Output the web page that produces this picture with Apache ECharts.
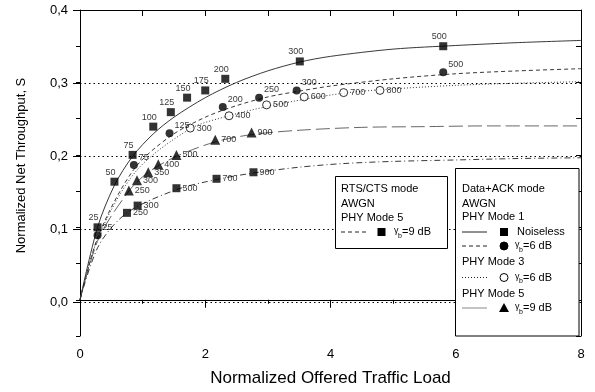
<!DOCTYPE html>
<html>
<head>
<meta charset="utf-8">
<script src="https://cdn.jsdelivr.net/npm/echarts@6/dist/echarts.min.js"></script>
<style>html,body{margin:0;padding:0;background:#fff}#c{width:595px;height:392px}</style>
</head>
<body>
<div id="c"></div>
<script>
// ---- data ----
const xTicks = [0, 2, 4, 6, 8];
const yTicks = [0.0, 0.1, 0.2, 0.3, 0.4];

// PHY Mode 1, Noiseless (filled squares, solid curve)
const m1NoiselessPts = [[0.28,0.100],[0.55,0.163],[0.84,0.200],[1.17,0.239],[1.45,0.259],[1.71,0.279],[2.00,0.289],[2.32,0.305],[3.51,0.329],[5.80,0.350]];
const m1NoiselessLbl = [25,50,75,100,125,150,175,200,300,500];
const m1NoiselessCurve = [[0,0],[0.28,0.100],[0.55,0.158],[0.84,0.198],[1.17,0.229],[1.5,0.252],[2,0.279],[2.5,0.300],[3,0.316],[3.5,0.328],[4,0.336],[5,0.346],[6,0.351],[7,0.355],[8,0.358]];

// PHY Mode 1, gamma_b = 6 dB (filled circles, dashed curve)
const m1g6Pts = [[0.28,0.089],[0.86,0.186],[1.43,0.230],[2.28,0.266],[2.86,0.279],[3.46,0.289],[5.80,0.314]];
const m1g6Lbl = [25,75,125,200,250,300,500];
const m1g6Curve = [[0,0],[0.3,0.090],[0.86,0.180],[1.43,0.225],[2,0.252],[2.5,0.268],[3,0.280],[3.5,0.288],[4,0.295],[5,0.305],[6,0.312],[7,0.316],[8,0.319]];

// PHY Mode 3, gamma_b = 6 dB (open circles, dotted curve)
const m3g6Pts = [[1.76,0.237],[2.38,0.254],[2.98,0.269],[3.58,0.280],[4.21,0.286],[4.79,0.289]];
const m3g6Lbl = [300,400,500,600,700,800];
const m3g6Curve = [[0,0],[0.3,0.088],[0.9,0.178],[1.76,0.236],[2.38,0.254],[3,0.267],[3.6,0.277],[4.2,0.285],[4.8,0.290],[6,0.296],[7,0.299],[8,0.301]];

// PHY Mode 5, gamma_b = 9 dB (triangles, grey curve)
const m5g9Pts = [[0.78,0.151],[0.91,0.165],[1.09,0.176],[1.25,0.187],[1.54,0.200],[2.16,0.221],[2.74,0.231]];
const m5g9Lbl = [250,300,350,400,500,700,900];
const m5g9Curve = [[0,0],[0.3,0.085],[0.78,0.150],[1.09,0.176],[1.54,0.198],[2.16,0.218],[2.74,0.228],[3.5,0.234],[4.5,0.238],[5.5,0.239],[6.5,0.240],[8,0.240]];

// RTS/CTS, PHY Mode 5, gamma_b = 9 dB (filled squares, dash-dot curve)
const rtsPts = [[0.75,0.120],[0.92,0.130],[1.54,0.154],[2.18,0.167],[2.77,0.176]];
const rtsLbl = [250,300,500,700,900];
const rtsCurve = [[0,0],[0.3,0.075],[0.75,0.120],[1.54,0.152],[2.18,0.166],[2.77,0.175],[3.5,0.183],[4.2,0.188],[5,0.191],[6,0.193],[7,0.195],[8,0.196]];

// ---- chart ----
const FONT = 'Liberation Sans, Arial, sans-serif';
const chart = echarts.init(document.getElementById('c'), null, {renderer: 'canvas'});

function curve(name, data, color, type, width) {
  return {name, type: 'line', xAxisIndex: 0, yAxisIndex: 0, data, smooth: 0.3,
    symbol: 'none', silent: true, z: 2,
    lineStyle: {color, type, width}};
}
function pts(name, data, lbl, symbol, size, itemStyle, labelOpt) {
  return {name, type: 'scatter', xAxisIndex: 0, yAxisIndex: 0, data, symbol, symbolSize: size, z: 4,
    itemStyle, label: Object.assign({show: true, fontSize: 9, color: '#000', fontFamily: FONT,
      formatter: p => String(lbl[p.dataIndex])}, labelOpt)};
}

const black = {color: '#000'};
const fmtY = v => v.toFixed(1).replace('.', ',');

// legend graphics
const g = [];
function box(x, y, w, h) { g.push({type: 'rect', shape: {x, y, width: w, height: h}, style: {fill: '#fff', stroke: '#000', lineWidth: 1}, z: 100}); }
function txt(x, y, s, size) { g.push({type: 'text', x, y, style: {text: s, fontSize: size || 11, fontFamily: FONT, fill: '#000', verticalAlign: 'middle', align: 'left'}, z: 101}); }
function seg(x1, x2, y, color, dash, w) { g.push({type: 'line', shape: {x1, y1: y, x2, y2: y}, style: {stroke: color, lineWidth: w || 1, lineDash: dash}, z: 101}); }
function gam(x, y, rest) {
  txt(x, y - 1, 'γ', 9);
  txt(x + 4, y + 4, 'b', 7);
  txt(x + 8, y, rest, 11);
}
function sq(x, y) { g.push({type: 'rect', shape: {x: x - 4, y: y - 4, width: 8, height: 8}, style: {fill: '#000'}, z: 101}); }
function circ(x, y, open) { g.push({type: 'circle', shape: {cx: x, cy: y, r: 4}, style: {fill: open ? '#fff' : '#000', stroke: '#000', lineWidth: 1}, z: 101}); }
function tri(x, y) { g.push({type: 'polygon', shape: {points: [[x, y - 5], [x + 5, y + 4], [x - 5, y + 4]]}, style: {fill: '#000'}, z: 101}); }

// Box 1: RTS/CTS
box(335.5, 176.5, 112, 72);
txt(341, 188.5, 'RTS/CTS mode');
txt(341, 203.5, 'AWGN');
txt(341, 218, 'PHY Mode 5');
seg(341, 367, 232, '#222', [4, 3]);
sq(381.5, 232);
gam(394, 232, '=9 dB');

// Box 2: Data+ACK
box(455.5, 168.5, 123.5, 167.5);
txt(462, 188.5, 'Data+ACK mode');
txt(462, 203.5, 'AWGN');
txt(462, 216.5, 'PHY Mode 1');
seg(462, 487, 232, '#222', null);
sq(504, 232);
txt(517, 232, 'Noiseless');
seg(462, 487, 246, '#222', [4, 3]);
circ(504, 246, false);
gam(515, 246, '=6 dB');
txt(462, 262, 'PHY Mode 3');
seg(462, 487, 277.5, '#222', [1, 2]);
circ(504, 277.5, true);
gam(515, 277.5, '=6 dB');
txt(462, 293.5, 'PHY Mode 5');
seg(462, 487, 308, '#888', null);
tri(504, 308);
gam(515, 308, '=9 dB');

const option = {
  animation: false,
  backgroundColor: '#fff',
  textStyle: {fontFamily: FONT},
  grid: [
    {left: 80, right: 14, top: 10, bottom: 54, show: false},
    {left: 80, right: 14, top: 10, bottom: 90, show: false}
  ],
  xAxis: [
    {type: 'value', gridIndex: 0, min: xTicks[0], max: xTicks[xTicks.length - 1], interval: 2, position: 'bottom',
      name: 'Normalized Offered Traffic Load', nameLocation: 'middle', nameGap: 34,
      nameTextStyle: {fontSize: 17, color: '#000', fontFamily: FONT},
      axisLine: {show: true, lineStyle: {color: '#000', width: 1}},
      axisTick: {show: true, inside: false, length: 8, lineStyle: {color: '#000'}},
      minorTick: {show: true, splitNumber: 2, length: 4, lineStyle: {color: '#000'}},
      axisLabel: {show: true, fontSize: 13, color: '#000', margin: 12, fontFamily: FONT},
      splitLine: {show: false}},
    {type: 'value', gridIndex: 0, min: 0, max: 8, interval: 1, position: 'top',
      axisLine: {show: true, onZero: false, lineStyle: {color: '#000', width: 1}},
      axisTick: {show: true, inside: true, length: 6, lineStyle: {color: '#000'}},
      axisLabel: {show: false}, splitLine: {show: false}},
    {type: 'value', gridIndex: 1, min: 0, max: 8, show: false}
  ],
  yAxis: [
    {type: 'value', gridIndex: 0, min: -0.05, max: 0.4, interval: 0.05, position: 'left',
      name: 'Normalized Net Throughput, S', nameLocation: 'middle', nameGap: 52,
      nameTextStyle: {fontSize: 13, color: '#000', fontFamily: FONT, padding: [0, 0, 0, 15]},
      axisLine: {show: true, onZero: false, lineStyle: {color: '#000', width: 1}},
      axisTick: {show: true, inside: false, length: 4, lineStyle: {color: '#000'}},
      axisLabel: {show: false}, splitLine: {show: false}},
    {type: 'value', gridIndex: 0, min: -0.05, max: 0.4, interval: 0.05, position: 'right',
      axisLine: {show: true, onZero: false, lineStyle: {color: '#000', width: 1}},
      axisTick: {show: true, inside: true, length: 5, lineStyle: {color: '#000'}},
      axisLabel: {show: false}, splitLine: {show: false}},
    {type: 'value', gridIndex: 1, min: yTicks[0], max: yTicks[yTicks.length - 1], interval: 0.1, position: 'left',
      axisLine: {show: false},
      axisTick: {show: true, inside: false, length: 7, lineStyle: {color: '#000'}},
      axisLabel: {show: true, fontSize: 13, color: '#000', margin: 12, formatter: fmtY, fontFamily: FONT},
      splitLine: {show: true, lineStyle: {color: '#000', type: [1.5, 3], width: 1}}}
  ],
  series: [
    curve('Noiseless', m1NoiselessCurve, '#222', 'solid', 0.9),
    curve('M1 6dB', m1g6Curve, '#222', [4, 3], 0.9),
    curve('M3 6dB', m3g6Curve, '#222', [1, 2], 0.9),
    curve('M5 9dB', m5g9Curve, '#555', [14, 5], 0.9),
    curve('RTS M5 9dB', rtsCurve, '#222', [6, 3, 1, 3], 0.9),
    pts('Noiseless pts', m1NoiselessPts, m1NoiselessLbl, 'rect', 8, black, {position: 'top', distance: 1, offset: [-4, 0]}),
    pts('M1 6dB pts', m1g6Pts, m1g6Lbl, 'circle', 8, black, {position: 'right', distance: 1, offset: [0, -8]}),
    pts('M3 6dB pts', m3g6Pts, m3g6Lbl, 'circle', 8, {color: '#fff', borderColor: '#000', borderWidth: 1}, {position: 'right', distance: 2}),
    pts('M5 9dB pts', m5g9Pts, m5g9Lbl, 'triangle', 10, black, {position: 'right', distance: 1}),
    pts('RTS pts', rtsPts, rtsLbl, 'rect', 8, black, {position: 'right', distance: 2})
  ],
  graphic: g
};
chart.setOption(option);
</script>
</body>
</html>
